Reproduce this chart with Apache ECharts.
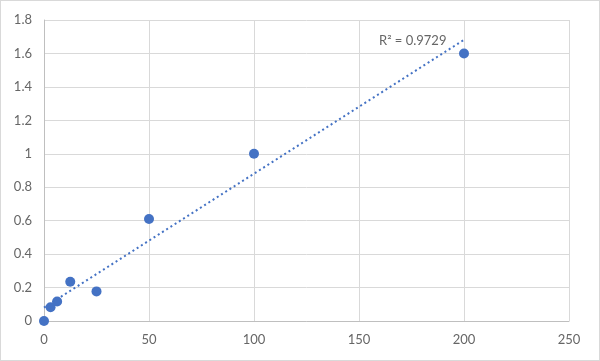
<!DOCTYPE html>
<html><head><meta charset="utf-8">
<script src="https://cdn.jsdelivr.net/npm/echarts@6/dist/echarts.min.js"></script>
<style>html,body{margin:0;padding:0;background:#fff}#c{width:600px;height:361px;box-sizing:border-box;border:1px solid #d9d9d9}</style>
</head><body><div id="c"></div>
<script>
const xValues = [0, 3.125, 6.25, 12.5, 25, 50, 100, 200];
const yValues = [0, 0.082, 0.117, 0.235, 0.177, 0.61, 1.0, 1.6];
const r2Label = 'R² = 0.9729';

const n = xValues.length;
const mx = xValues.reduce((a,b)=>a+b,0)/n;
const my = yValues.reduce((a,b)=>a+b,0)/n;
let sxx=0, sxy=0;
for (let i=0;i<n;i++){ sxx+=(xValues[i]-mx)**2; sxy+=(xValues[i]-mx)*(yValues[i]-my); }
const slope = sxy/sxx, intercept = my - slope*mx;
const xMin = Math.min(...xValues), xMax = Math.max(...xValues);
const trend = [[xMin, intercept+slope*xMin],[xMax, intercept+slope*xMax]];

const chart = echarts.init(document.getElementById('c'));
const font = {color:'#666666', fontSize:13, fontFamily:'Lato, "Open Sans", sans-serif'};
chart.setOption({
  animation:false,
  grid:{left:43, right:30, top:19, bottom:39},
  xAxis:{type:'value', min:0, max:250, interval:50,
    axisLine:{show:true, onZero:false, lineStyle:{color:'#bfbfbf', width:1}},
    axisTick:{show:false},
    splitLine:{show:true, lineStyle:{color:'#d9d9d9'}},
    axisLabel:Object.assign({margin:12}, font)},
  yAxis:{type:'value', min:0, max:1.8, interval:0.2,
    axisLine:{show:true, lineStyle:{color:'#bfbfbf', width:1}},
    axisTick:{show:false},
    splitLine:{show:true, lineStyle:{color:'#d9d9d9'}},
    axisLabel:Object.assign({margin:12, formatter:v=>String(Math.round(v*10)/10)}, font)},
  graphic:[{type:'text', left:378, top:33, style:{text:r2Label, fill:'#666666', fontSize:13, fontFamily:'Lato, "Open Sans", sans-serif'}}],
  series:[
    {type:'line', data:trend, symbol:'none', lineStyle:{color:'#4472c4', width:2, type:[2,3]}, z:1},
    {type:'scatter', data:xValues.map((x,i)=>[x,yValues[i]]), symbolSize:10, itemStyle:{color:'#4472c4', opacity:1}, z:2}
  ]
});
</script></body></html>
